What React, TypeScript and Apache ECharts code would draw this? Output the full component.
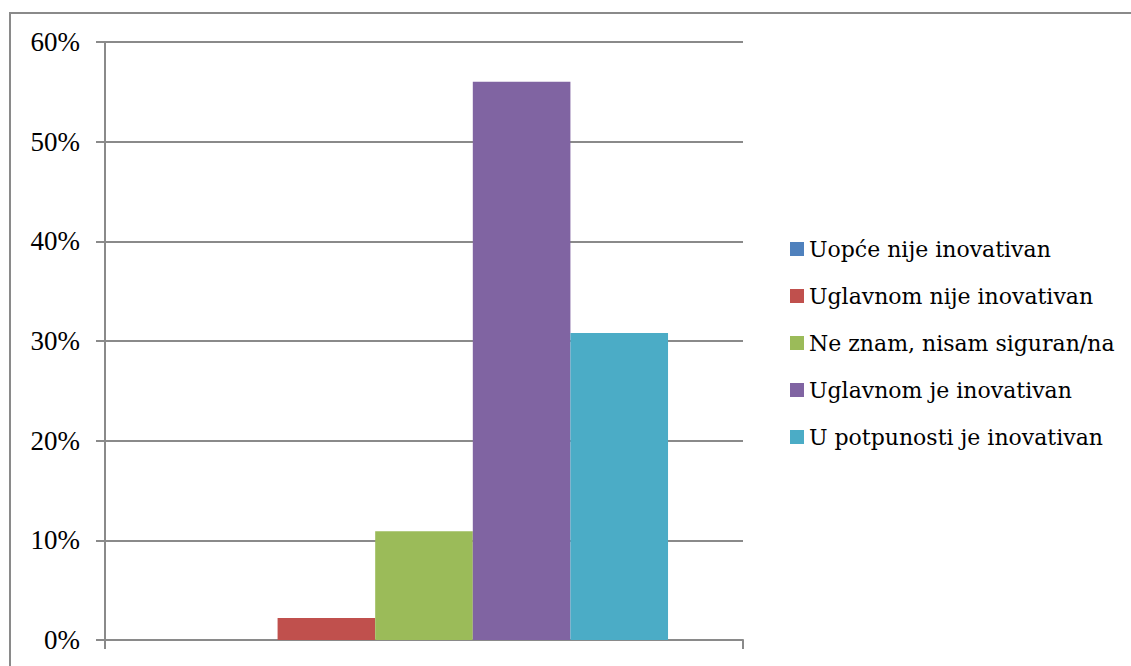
import React, { useEffect, useRef } from "react";
import * as echarts from "echarts";

const categories = ["Inovativnost"];
const seriesNames = [
  "Uopće nije inovativan",
  "Uglavnom nije inovativan",
  "Ne znam, nisam siguran/na",
  "Uglavnom je inovativan",
  "U potpunosti je inovativan",
];
const seriesValues = [0, 2.2, 10.9, 56.0, 30.8];
const seriesColors = ["#4F81BD", "#C0504D", "#9BBB59", "#8064A2", "#4BACC6"];
const yTicks = [0, 10, 20, 30, 40, 50, 60];

export default function App() {
  const ref = useRef<HTMLDivElement>(null);
  useEffect(() => {
    if (!ref.current) return;
    const chart = echarts.init(ref.current, null, { renderer: "svg" });
    const font = "Liberation Serif";
    chart.setOption({
      animation: false,
      backgroundColor: "#ffffff",
      textStyle: { fontFamily: font },
      graphic: [
        {
          type: "rect",
          shape: { x: 10, y: 13, width: 1200, height: 700 },
          style: { fill: "none", stroke: "#8a8a8a", lineWidth: 2 },
          silent: true,
          z: -10,
        },
      ],
      grid: { left: 105, right: 388, top: 42, bottom: 26, containLabel: false },
      legend: {
        orient: "vertical",
        left: 785,
        top: 233,
        itemWidth: 14,
        itemHeight: 14,
        itemGap: 25,
        itemTextGap: 6,
        icon: "rect",
        textStyle: { fontFamily: "DejaVu Serif", fontSize: 22, color: "#000" },
        data: seriesNames,
      },
      xAxis: {
        type: "category",
        data: categories,
        axisLine: { show: true, lineStyle: { color: "#8a8a8a", width: 2 } },
        axisTick: { show: true, length: 9, lineStyle: { color: "#8a8a8a", width: 2 } },
        axisLabel: { show: false },
      },
      yAxis: {
        type: "value",
        min: yTicks[0],
        max: yTicks[yTicks.length - 1],
        interval: 10,
        axisLine: { show: true, lineStyle: { color: "#8a8a8a", width: 2 } },
        axisTick: { show: true, length: 9, lineStyle: { color: "#8a8a8a", width: 2 } },
        axisLabel: {
          formatter: (v: number) => v + "%",
          fontFamily: font,
          fontSize: 27,
          color: "#000",
          margin: 25,
        },
        splitLine: { show: true, lineStyle: { color: "#8a8a8a", width: 2 } },
      },
      series: seriesNames.map((name, i) => ({
        name,
        type: "bar",
        data: [seriesValues[i]],
        itemStyle: { color: seriesColors[i] },
        barGap: "0%",
        barCategoryGap: "23.5%",
      })),
    });
    return () => chart.dispose();
  }, []);
  return (
    <div
      ref={ref}
      style={{ position: "fixed", left: 0, top: 0, width: 1131, height: 666 }}
    />
  );
}
